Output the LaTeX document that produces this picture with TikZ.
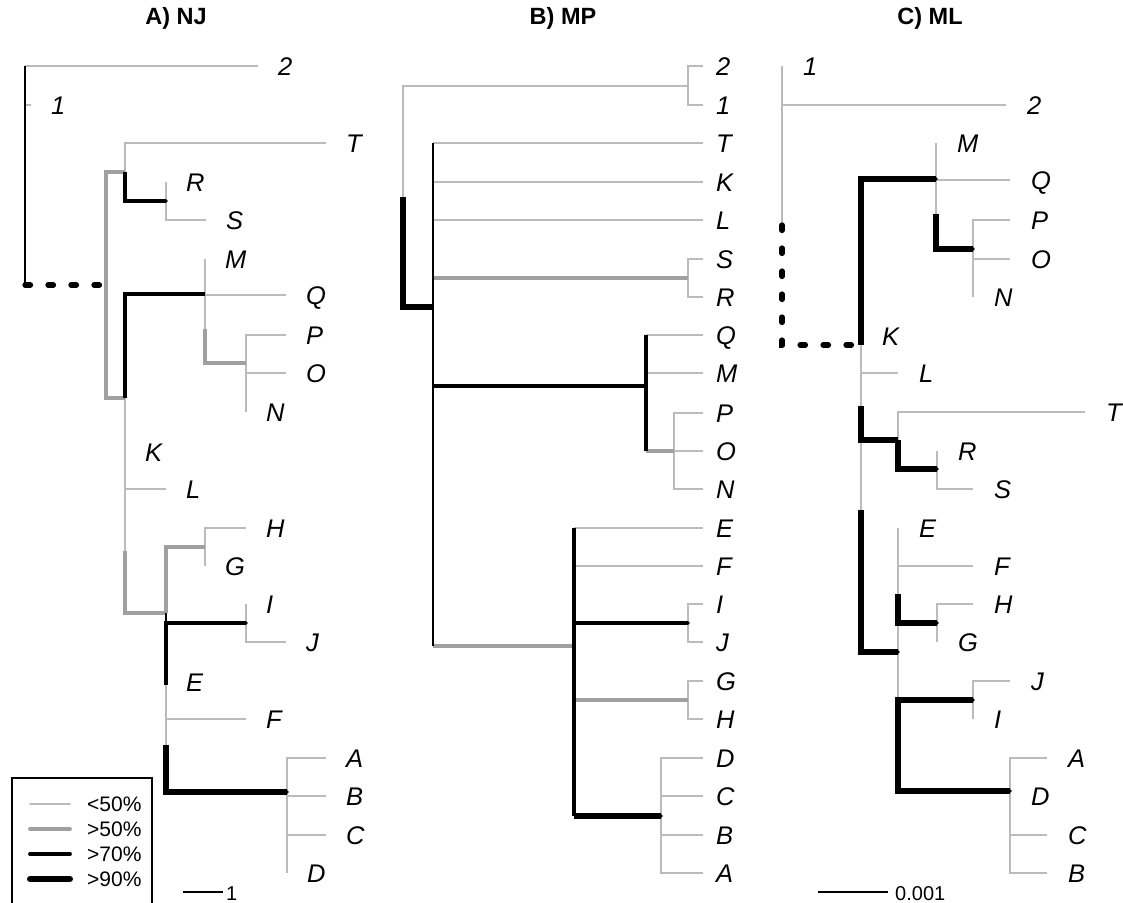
\documentclass[tikz,border=0pt]{standalone}
\usepackage{fontspec}
\setmainfont{Liberation Sans}
\usetikzlibrary{calc}
\definecolor{lg}{HTML}{BBBBBB}
\definecolor{mg}{HTML}{A0A0A0}
\newcommand{\lf}{\itshape\fontsize{25.5}{25.5}\selectfont}
\newcommand{\legfont}{\fontsize{21}{21}\selectfont}
\tikzset{
  e0/.style={draw=lg, line width=1.7pt},
  e50/.style={draw=mg, line width=3.9pt},
  e70/.style={draw=black, line width=3.1pt},
  e90/.style={draw=black, line width=5.2pt},
  eb/.style={draw=black, line width=2pt},
  dotl/.style={draw=black, line width=5.2pt, line cap=round, dash pattern=on 5.5pt off 17.5pt},
  lab/.style={anchor=base west, inner sep=0pt, yshift=-9.5pt, font=\lf},
  labA/.style={lab, xshift=20pt},
  labB/.style={lab, xshift=13pt},
  labC/.style={lab, xshift=21pt},
  ttl/.style={anchor=base, inner sep=0pt, font=\bfseries\fontsize{23.5}{23.5}\selectfont},
  nd/.style={fill=black, circle, inner sep=0pt, minimum size=3.8pt},
  legtxt/.style={anchor=base west, inner sep=0pt, font=\legfont},
}
\begin{document}
\begin{tikzpicture}[x=1pt,y=-1pt]
\useasboundingbox (0,0) rectangle (1123,902);
\fill[white] (0,0) rectangle (1123,902);

% titles
\node[ttl] (tA) at (176,24) {A) NJ};
\node[ttl] (tB) at (563,24) {B) MP};
\node[ttl] (tC) at (930,24) {C) ML};

% ================= Panel A (NJ) =================
\coordinate (A-r1) at (25,66);
\coordinate (A-r2) at (25,285);
\coordinate (A-2) at (258,66);
\coordinate (A-1) at (31,105);
\coordinate (A-i) at (106,285);
\coordinate (A-trs) at (125,172);
\coordinate (A-T) at (326,143);
\coordinate (A-rs) at (166,201);
\coordinate (A-R) at (166,182);
\coordinate (A-S) at (206,220);
\coordinate (A-b) at (125,398);
\coordinate (A-mn1) at (205,294);
\coordinate (A-M) at (205,259);
\coordinate (A-mn2) at (205,329);
\coordinate (A-Q) at (286,295);
\coordinate (A-po1) at (246,363);
\coordinate (A-P) at (286,335);
\coordinate (A-po2) at (246,392);
\coordinate (A-O) at (286,373);
\coordinate (A-N) at (246,412);
\coordinate (A-x) at (125,501);
\coordinate (A-K) at (125,452);
\coordinate (A-x2) at (125,551);
\coordinate (A-L) at (166,489);
\coordinate (A-y) at (166,613);
\coordinate (A-gh) at (205,547);
\coordinate (A-H) at (246,528);
\coordinate (A-G) at (205,566);
\coordinate (A-z) at (166,685);
\coordinate (A-ij) at (246,623);
\coordinate (A-I) at (246,604);
\coordinate (A-J) at (286,642);
\coordinate (A-z2) at (166,745);
\coordinate (A-z3) at (166,700);
\coordinate (A-E) at (166,682);
\coordinate (A-F) at (246,719);
\coordinate (A-ab1) at (287,792);
\coordinate (A-A) at (326,758);
\coordinate (A-ab2) at (287,825);
\coordinate (A-B) at (326,796);
\coordinate (A-ab3) at (287,854);
\coordinate (A-C) at (326,835);
\coordinate (A-D) at (287,873);

\draw[e0] (A-r1) -- (A-2);
\draw[e0] (A-r1 |- A-1) -- (A-1);
\draw[eb] (A-r1) -- (A-r2);
\draw[e0] (A-trs) |- (A-T);
\draw[e0] (A-rs) |- (A-R);
\draw[e0] (A-rs) |- (A-S);
\draw[e0] (A-mn1) |- (A-M);
\draw[e0] (A-mn1) |- (A-mn2);
\draw[e0] (A-mn2) |- (A-Q);
\draw[e0] (A-po1) |- (A-P);
\draw[e0] (A-po1) |- (A-po2);
\draw[e0] (A-po2) |- (A-O);
\draw[e0] (A-po2) |- (A-N);
\draw[e0] (A-b) |- (A-x);
\draw[e0] (A-x) |- (A-K);
\draw[e0] (A-x) |- (A-x2);
\draw[e0] (A-x2) |- (A-L);
\draw[e0] (A-gh) |- (A-H);
\draw[e0] (A-gh) |- (A-G);
\draw[e0] (A-ij) |- (A-I);
\draw[e0] (A-ij) |- (A-J);
\draw[e0] (A-z) |- (A-z2);
\draw[e0] (A-z2) |- (A-z3);
\draw[e0] (A-z3) |- (A-E);
\draw[e0] (A-z3) |- (A-F);
\draw[e0] (A-ab1) |- (A-A);
\draw[e0] (A-ab1) |- (A-ab2);
\draw[e0] (A-ab2) |- (A-B);
\draw[e0] (A-ab2) |- (A-ab3);
\draw[e0] (A-ab3) |- (A-C);
\draw[e0] (A-ab3) |- (A-D);
\draw[e50] (A-i) |- (A-trs);
\draw[e50] (A-i) |- (A-b);
\draw[e50] (A-mn2) |- (A-po1);
\draw[e50] (A-x2) |- (A-y);
\draw[e50] (A-y) |- (A-gh);
\draw[eb] (A-y) |- (A-z);
\draw[e70] (A-trs) |- (A-rs);
\draw[e70] (A-b) |- (A-mn1);
\draw[e70] (A-z) |- (A-ij);
\draw[e90] (A-z2) |- (A-ab1);
\draw[dotl] (A-r2) -- (A-i);
\node[nd] (dA1) at (A-rs) {};
\node[nd] (dA2) at (A-ij) {};
\node[nd] (dA3) at (A-ab1) {};

\node[labA] (lA-2) at (A-2) {2};
\node[labA] (lA-1) at (A-1) {1};
\node[labA] (lA-T) at (A-T) {T};
\node[labA] (lA-R) at (A-R) {R};
\node[labA] (lA-S) at (A-S) {S};
\node[labA] (lA-M) at (A-M) {M};
\node[labA] (lA-Q) at (A-Q) {Q};
\node[labA] (lA-P) at (A-P) {P};
\node[labA] (lA-O) at (A-O) {O};
\node[labA] (lA-N) at (A-N) {N};
\node[labA] (lA-K) at (A-K) {K};
\node[labA] (lA-L) at (A-L) {L};
\node[labA] (lA-H) at (A-H) {H};
\node[labA] (lA-G) at (A-G) {G};
\node[labA] (lA-I) at (A-I) {I};
\node[labA] (lA-J) at (A-J) {J};
\node[labA] (lA-E) at (A-E) {E};
\node[labA] (lA-F) at (A-F) {F};
\node[labA] (lA-A) at (A-A) {A};
\node[labA] (lA-B) at (A-B) {B};
\node[labA] (lA-C) at (A-C) {C};
\node[labA] (lA-D) at (A-D) {D};

% legend
\draw[line width=1.3pt] (12,910) -- (12,778) -- (152,778) -- (152,910);
\coordinate (g1a) at (30,804); \coordinate (g1b) at (70,804);
\coordinate (g2a) at (30,829); \coordinate (g2b) at (70,829);
\coordinate (g3a) at (30,854); \coordinate (g3b) at (70,854);
\coordinate (g4a) at (30,879); \coordinate (g4b) at (70,879);
\draw[e0, line cap=round] (g1a) -- (g1b);
\draw[e50, line cap=round] (g2a) -- (g2b);
\draw[e70, line width=3.8pt, line cap=round] (g3a) -- (g3b);
\draw[e90, line width=6pt, line cap=round] (g4a) -- (g4b);
\node[legtxt] (gt1) at (87,811.5) {<50\%};
\node[legtxt] (gt2) at (87,836.5) {>50\%};
\node[legtxt] (gt3) at (87,861.5) {>70\%};
\node[legtxt] (gt4) at (87,886.5) {>90\%};

% scale bar A
\coordinate (sA1) at (183,892);
\coordinate (sA2) at (223,892);
\draw[line width=1.6pt] (sA1) -- (sA2);
\node[legtxt, font=\fontsize{20}{20}\selectfont] (sAl) at (226,900) {1};

% ================= Panel B (MP) =================
\coordinate (B-r) at (403,197);
\coordinate (B-12) at (688,86);
\coordinate (B-2) at (703,66);
\coordinate (B-1) at (703,105);
\coordinate (B-i) at (433,307);
\coordinate (B-T) at (703,143);
\coordinate (B-K) at (703,182);
\coordinate (B-L) at (703,220);
\coordinate (B-sr) at (688,278);
\coordinate (B-S) at (703,259);
\coordinate (B-R) at (703,297);
\coordinate (B-qn) at (646,386);
\coordinate (B-Q) at (703,335);
\coordinate (B-M) at (703,373);
\coordinate (B-po) at (674,451);
\coordinate (B-P) at (703,413);
\coordinate (B-O) at (703,451);
\coordinate (B-N) at (703,489);
\coordinate (B-lo) at (574,646);
\coordinate (B-E) at (703,528);
\coordinate (B-F) at (703,566);
\coordinate (B-ij) at (688,623);
\coordinate (B-I) at (703,604);
\coordinate (B-J) at (703,642);
\coordinate (B-gh) at (688,700);
\coordinate (B-G) at (703,681);
\coordinate (B-H) at (703,719);
\coordinate (B-dc) at (661,816);
\coordinate (B-D) at (703,758);
\coordinate (B-C) at (703,796);
\coordinate (B-B) at (703,835);
\coordinate (B-A) at (703,873);

\draw[e0] (B-r) |- (B-12);
\draw[e0] (B-12) |- (B-2);
\draw[e0] (B-12) |- (B-1);
\draw[e0] (B-i |- B-T) -- (B-T);
\draw[e0] (B-i |- B-K) -- (B-K);
\draw[e0] (B-i |- B-L) -- (B-L);
\draw[e0] (B-sr) |- (B-S);
\draw[e0] (B-sr) |- (B-R);
\draw[e0] (B-qn |- B-Q) -- (B-Q);
\draw[e0] (B-qn |- B-M) -- (B-M);
\draw[e0] (B-po) |- (B-P);
\draw[e0] (B-po) -- (B-O);
\draw[e0] (B-po) |- (B-N);
\draw[e0] (B-lo |- B-E) -- (B-E);
\draw[e0] (B-lo |- B-F) -- (B-F);
\draw[e0] (B-ij) |- (B-I);
\draw[e0] (B-ij) |- (B-J);
\draw[e0] (B-gh) |- (B-G);
\draw[e0] (B-gh) |- (B-H);
\draw[e0] (B-dc) |- (B-D);
\draw[e0] (B-dc |- B-C) -- (B-C);
\draw[e0] (B-dc |- B-B) -- (B-B);
\draw[e0] (B-dc) |- (B-A);
\draw[e50] (B-i |- B-sr) -- (B-sr);
\draw[e50] (B-i |- B-lo) -- (B-lo);
\draw[e50] (B-qn |- B-po) -- (B-po);
\draw[e50] (B-lo |- B-gh) -- (B-gh);
\draw[eb] (B-i |- B-T) -- (B-i |- B-lo);
\draw[e70] (B-qn |- B-Q) -- (B-qn |- B-po);
\draw[e70] (B-lo |- B-E) -- (B-lo |- B-dc);
\draw[e70] (B-i |- B-qn) -- (B-qn);
\draw[e70] (B-lo |- B-ij) -- (B-ij);
\draw[e90] (B-lo |- B-dc) -- (B-dc);
\draw[e90] (B-r) |- (B-i);
\node[nd] (dB1) at (B-dc) {};
\node[nd] (dB2) at (B-ij) {};

\node[labB] (lB-2) at (B-2) {2};
\node[labB] (lB-1) at (B-1) {1};
\node[labB] (lB-T) at (B-T) {T};
\node[labB] (lB-K) at (B-K) {K};
\node[labB] (lB-L) at (B-L) {L};
\node[labB] (lB-S) at (B-S) {S};
\node[labB] (lB-R) at (B-R) {R};
\node[labB] (lB-Q) at (B-Q) {Q};
\node[labB] (lB-M) at (B-M) {M};
\node[labB] (lB-P) at (B-P) {P};
\node[labB] (lB-O) at (B-O) {O};
\node[labB] (lB-N) at (B-N) {N};
\node[labB] (lB-E) at (B-E) {E};
\node[labB] (lB-F) at (B-F) {F};
\node[labB] (lB-I) at (B-I) {I};
\node[labB] (lB-J) at (B-J) {J};
\node[labB] (lB-G) at (B-G) {G};
\node[labB] (lB-H) at (B-H) {H};
\node[labB] (lB-D) at (B-D) {D};
\node[labB] (lB-C) at (B-C) {C};
\node[labB] (lB-B) at (B-B) {B};
\node[labB] (lB-A) at (B-A) {A};

% ================= Panel C (ML) =================
\coordinate (C-r1) at (782,145);
\coordinate (C-1) at (782,66);
\coordinate (C-r2) at (782,225);
\coordinate (C-2) at (1006,105);
\coordinate (C-i) at (861,345);
\coordinate (C-mq) at (936,179);
\coordinate (C-M) at (936,143);
\coordinate (C-mq2) at (936,214);
\coordinate (C-Q) at (1010,180);
\coordinate (C-po) at (973,249);
\coordinate (C-P) at (1010,220);
\coordinate (C-po2) at (973,278);
\coordinate (C-O) at (1010,259);
\coordinate (C-N) at (973,297);
\coordinate (C-s1) at (861,510);
\coordinate (C-s2) at (861,368);
\coordinate (C-K) at (861,336);
\coordinate (C-s3) at (861,406);
\coordinate (C-L) at (898,373);
\coordinate (C-trs) at (898,440);
\coordinate (C-T) at (1085,412);
\coordinate (C-rs) at (937,469);
\coordinate (C-R) at (937,451);
\coordinate (C-S) at (973,489);
\coordinate (C-lo) at (898,652);
\coordinate (C-l1) at (898,558);
\coordinate (C-E) at (898,528);
\coordinate (C-l1b) at (898,594);
\coordinate (C-F) at (973,566);
\coordinate (C-gh) at (937,623);
\coordinate (C-H) at (973,604);
\coordinate (C-G) at (937,642);
\coordinate (C-l2) at (898,745);
\coordinate (C-ji) at (973,700);
\coordinate (C-J) at (1010,681);
\coordinate (C-I) at (973,719);
\coordinate (C-ab) at (1010,791);
\coordinate (C-A) at (1047,758);
\coordinate (C-ab2) at (1010,825);
\coordinate (C-D) at (1010,796);
\coordinate (C-ab3) at (1010,854);
\coordinate (C-C) at (1047,835);
\coordinate (C-B) at (1047,873);

\draw[e0] (C-r1) |- (C-1);
\draw[e0] (C-r1) |- (C-r2);
\draw[e0] (C-r2) |- (C-2);
\draw[e0] (C-mq) |- (C-M);
\draw[e0] (C-mq) |- (C-mq2);
\draw[e0] (C-mq2) |- (C-Q);
\draw[e0] (C-po) |- (C-P);
\draw[e0] (C-po) |- (C-po2);
\draw[e0] (C-po2) |- (C-O);
\draw[e0] (C-po2) |- (C-N);
\draw[e0] (C-i) |- (C-s1);
\draw[e0] (C-s1) |- (C-s2);
\draw[e0] (C-s2) |- (C-K);
\draw[e0] (C-s2) |- (C-s3);
\draw[e0] (C-s3) |- (C-L);
\draw[e0] (C-trs) |- (C-T);
\draw[e0] (C-rs) |- (C-R);
\draw[e0] (C-rs) |- (C-S);
\draw[e0] (C-lo) |- (C-l1);
\draw[e0] (C-l1) |- (C-E);
\draw[e0] (C-l1) |- (C-l1b);
\draw[e0] (C-l1b) |- (C-F);
\draw[e0] (C-gh) |- (C-H);
\draw[e0] (C-gh) |- (C-G);
\draw[e0] (C-lo) |- (C-l2);
\draw[e0] (C-ji) |- (C-J);
\draw[e0] (C-ji) |- (C-I);
\draw[e0] (C-ab) |- (C-A);
\draw[e0] (C-ab) |- (C-ab2);
\draw[e0] (C-ab2) |- (C-D);
\draw[e0] (C-ab2) |- (C-ab3);
\draw[e0] (C-ab3) |- (C-C);
\draw[e0] (C-ab3) |- (C-B);
\draw[e90] (C-i) |- (C-mq);
\draw[e90] (C-mq2) |- (C-po);
\draw[e90] (C-s3) |- (C-trs);
\draw[e90] (C-trs) |- (C-rs);
\draw[e90] (C-s1) |- (C-lo);
\draw[e90] (C-l1b) |- (C-gh);
\draw[e90] (C-l2) |- (C-ji);
\draw[e90] (C-l2) |- (C-ab);
\draw[dotl] (C-r2) |- (C-i);
\node[nd] (dC1) at (C-mq) {};
\node[nd] (dC2) at (C-po) {};
\node[nd] (dC3) at (C-rs) {};
\node[nd] (dC4) at (C-gh) {};
\node[nd] (dC5) at (C-ji) {};
\node[nd] (dC6) at (C-ab) {};
\node[nd] (dC7) at (C-lo) {};

\node[labC] (lC-1) at (C-1) {1};
\node[labC] (lC-2) at (C-2) {2};
\node[labC] (lC-M) at (C-M) {M};
\node[labC] (lC-Q) at (C-Q) {Q};
\node[labC] (lC-P) at (C-P) {P};
\node[labC] (lC-O) at (C-O) {O};
\node[labC] (lC-N) at (C-N) {N};
\node[labC] (lC-K) at (C-K) {K};
\node[labC] (lC-L) at (C-L) {L};
\node[labC] (lC-T) at (C-T) {T};
\node[labC] (lC-R) at (C-R) {R};
\node[labC] (lC-S) at (C-S) {S};
\node[labC] (lC-E) at (C-E) {E};
\node[labC] (lC-F) at (C-F) {F};
\node[labC] (lC-H) at (C-H) {H};
\node[labC] (lC-G) at (C-G) {G};
\node[labC] (lC-J) at (C-J) {J};
\node[labC] (lC-I) at (C-I) {I};
\node[labC] (lC-A) at (C-A) {A};
\node[labC] (lC-D) at (C-D) {D};
\node[labC] (lC-C) at (C-C) {C};
\node[labC] (lC-B) at (C-B) {B};

% scale bar C
\coordinate (sC1) at (818,892);
\coordinate (sC2) at (888,892);
\draw[line width=1.6pt] (sC1) -- (sC2);
\node[legtxt, font=\fontsize{20}{20}\selectfont] (sCl) at (895,900) {0.001};
\end{tikzpicture}
\end{document}
